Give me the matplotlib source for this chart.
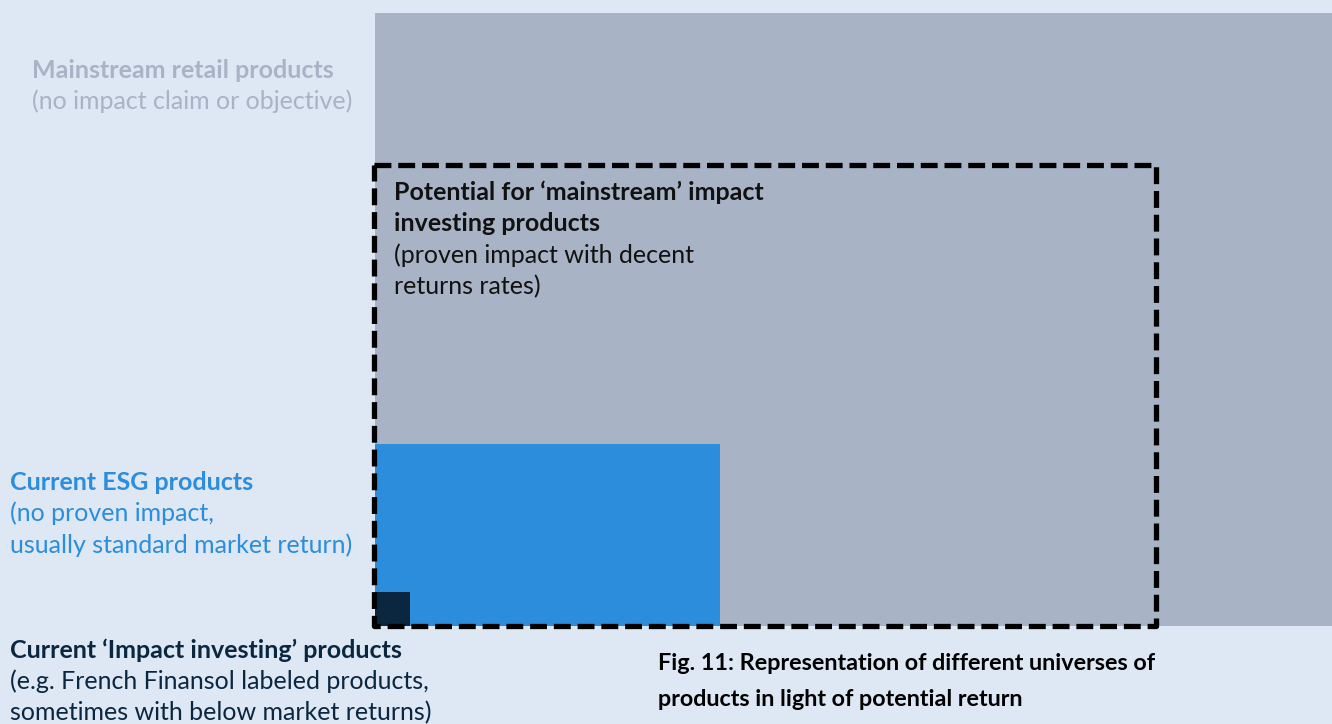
import matplotlib
matplotlib.use("Agg")
import matplotlib.pyplot as plt
from matplotlib.patches import Rectangle

# universes (pixel extents of each box: left, top, right, bottom)
universes = ["Mainstream retail", "Current ESG", "Current impact"]
box_left = [375, 375, 375]
box_top = [13, 444, 592]
box_right = [1332, 720, 410]
box_bottom = [626, 626, 626]
box_colors = ["#a8b4c6", "#2c8ddc", "#0b2740"]

potential_box = [374, 165, 1156, 626]

labels = [
    ("Mainstream retail products", "(no impact claim or objective)"),
    ("Potential for \u2018mainstream\u2019 impact\ninvesting products", "(proven impact with decent\nreturns rates)"),
    ("Current ESG products", "(no proven impact,\nusually standard market return)"),
    ("Current \u2018Impact investing\u2019 products", "(e.g. French Finansol labeled products,\nsometimes with below market returns)"),
]
label_xy = [(32, 70), (394, 192), (10, 482), (10, 650)]
label_colors = ["#a8b4c6", "#111111", "#2c8ddc", "#0b2740"]
title = "Fig. 11: Representation of different universes of\nproducts in light of potential return"

plt.rcParams["font.family"] = ["Lato", "DejaVu Sans"]
fig = plt.figure(figsize=(13.32, 7.24), dpi=100, facecolor="#dde8f4")
ax = fig.add_axes([0, 0, 1, 1])
ax.set_xlim(0, 1332)
ax.set_ylim(724, 0)
ax.axis("off")

for l, t, r, b, c in zip(box_left, box_top, box_right, box_bottom, box_colors):
    ax.add_patch(Rectangle((l, t), r - l, b - t, facecolor=c, edgecolor="none"))

pl, pt, pr, pb = potential_box
ax.add_patch(Rectangle((pl, pt), pr - pl, pb - pt, fill=False, edgecolor="black",
                       linewidth=3.8, linestyle=(0, (3.2, 1.3)), joinstyle="round"))

lh = 31.5
fs = 18
for (head, sub), (x, y), c in zip(labels, label_xy, label_colors):
    nh = head.count("\n") + 1
    for i, line in enumerate(head.split("\n")):
        ax.text(x, y + i * lh, line, color=c, fontsize=fs, fontweight="bold",
                va="center", ha="left")
    for i, line in enumerate(sub.split("\n")):
        ax.text(x, y + (nh + i) * lh, line, color=c, fontsize=fs,
                va="center", ha="left")

for i, line in enumerate(title.split("\n")):
    ax.text(658, 663 + i * 37, line, color="black", fontsize=16.8,
            fontweight="bold", va="center", ha="left")

fig.savefig("out.png", dpi=100, facecolor=fig.get_facecolor())
